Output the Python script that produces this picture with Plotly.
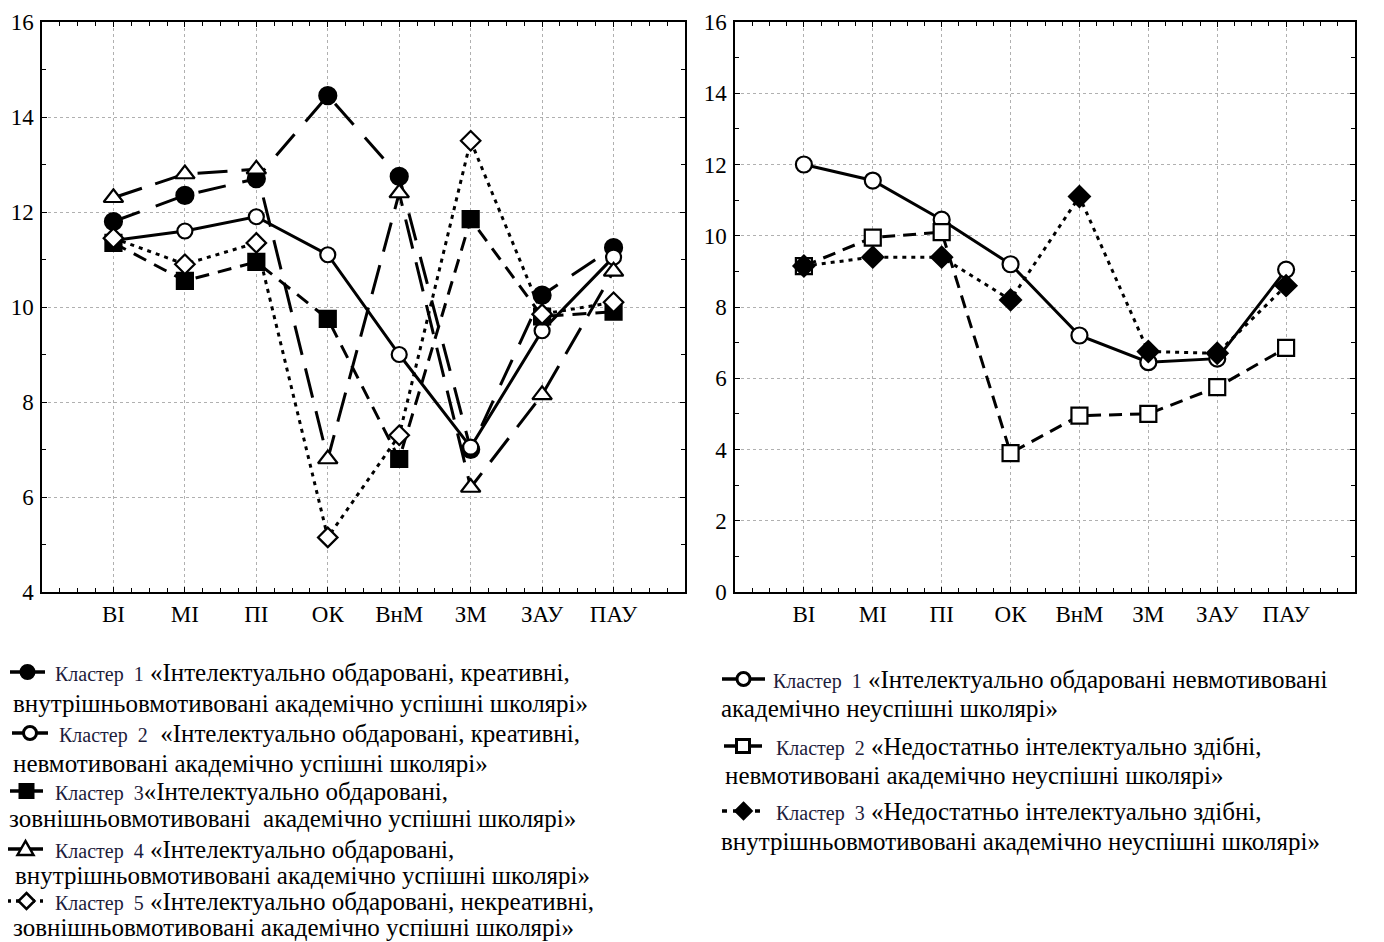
import plotly.graph_objects as go
from plotly.subplots import make_subplots

categories = ["ВІ", "МІ", "ПІ", "ОК", "ВнМ", "ЗМ", "ЗАУ", "ПАУ"]

# Left panel
left_c1 = [11.8, 12.35, 12.7, 14.45, 12.75, 7.0, 10.25, 11.25]
left_c2 = [11.4, 11.6, 11.9, 11.1, 9.0, 7.05, 9.5, 11.05]
left_c3 = [11.35, 10.55, 10.95, 9.75, 6.8, 11.85, 9.8, 9.9]
left_c4 = [12.3, 12.8, 12.9, 6.8, 12.4, 6.2, 8.15, 10.75]
left_c5 = [11.45, 10.9, 11.35, 5.15, 7.3, 13.5, 9.85, 10.1]

# Right panel
right_c1 = [12.0, 11.55, 10.45, 9.2, 7.2, 6.45, 6.55, 9.05]
right_c2 = [9.15, 9.95, 10.1, 3.9, 4.95, 5.0, 5.75, 6.85]
right_c3 = [9.15, 9.4, 9.4, 8.2, 11.1, 6.75, 6.7, 8.6]

left_legend = [
    ("Кластер  1", " «Інтелектуально обдаровані, креативні,", "внутрішньовмотивовані академічно успішні школярі»"),
    ("Кластер  2", "  «Інтелектуально обдаровані, креативні,", "невмотивовані академічно успішні школярі»"),
    ("Кластер  3", "«Інтелектуально обдаровані,", "зовнішньовмотивовані  академічно успішні школярі»"),
    ("Кластер  4", " «Інтелектуально обдаровані,", "внутрішньовмотивовані академічно успішні школярі»"),
    ("Кластер  5", " «Інтелектуально обдаровані, некреативні,", "зовнішньовмотивовані академічно успішні школярі»"),
]
right_legend = [
    ("Кластер  1", " «Інтелектуально обдаровані невмотивовані", "академічно неуспішні школярі»"),
    ("Кластер  2", " «Недостатньо інтелектуально здібні,", "невмотивовані академічно неуспішні школярі»"),
    ("Кластер  3", " «Недостатньо інтелектуально здібні,", "внутрішньовмотивовані академічно неуспішні школярі»"),
]

# the page body has an 8px margin; the figure is sized/offset to fit the window
OFF = 8
W, H = 1384 - OFF, 942 - OFF
FONT = "Liberation Serif, Times New Roman, DejaVu Serif, serif"

def px(x):
    return (x - OFF) / W

def py(y):
    return 1 - (y - OFF) / H

fig = make_subplots(rows=1, cols=2)
xidx = list(range(len(categories)))

# styles: (symbol, fill, dash, size)
left_styles = [
    ("circle", "black", "28px,17px", 17),
    ("circle", "white", "solid", 15),
    ("square", "black", "14px,9px", 16),
    ("triangle-up", "white", "30px,14px", 17),
    ("diamond", "white", "4px,5px", 15),
]
right_styles = [
    ("circle", "white", "solid", 16),
    ("square", "white", "13px,8px", 16),
    ("diamond", "black", "4px,5px", 16),
]

for data, (sym, fill, dash, sz) in zip([left_c1, left_c2, left_c3, left_c4, left_c5], left_styles):
    fig.add_trace(go.Scatter(
        x=xidx, y=data, mode="lines+markers",
        line=dict(color="black", width=3, dash=dash),
        marker=dict(symbol=sym, size=sz, color=fill,
                    line=dict(color="black", width=2.2)),
        showlegend=False), row=1, col=1)

for data, (sym, fill, dash, sz) in zip([right_c1, right_c2, right_c3], right_styles):
    fig.add_trace(go.Scatter(
        x=xidx, y=data, mode="lines+markers",
        line=dict(color="black", width=3, dash=dash),
        marker=dict(symbol=sym, size=sz, color=fill,
                    line=dict(color="black", width=2.2)),
        showlegend=False), row=1, col=2)

common_x = dict(
    range=[-1, 8], tickmode="array", tickvals=xidx, ticktext=categories,
    showline=True, linecolor="black", linewidth=1.5, mirror="ticks",
    ticks="inside", ticklen=5, tickcolor="black", tickwidth=1,
    showgrid=True, gridcolor="#b0b0b0", griddash="dot", gridwidth=1,
    zeroline=False, ticklabelstandoff=1, automargin=False,
    tickfont=dict(family=FONT, size=23, color="black"),
    minor=dict(tick0=0, dtick=0.25, ticks="inside", ticklen=4, tickcolor="black", showgrid=False),
)
common_y = dict(
    showline=True, linecolor="black", linewidth=1.5, mirror="ticks",
    ticks="inside", ticklen=5, tickcolor="black", tickwidth=1,
    showgrid=True, gridcolor="#b0b0b0", griddash="dot", gridwidth=1,
    zeroline=False, ticklabelstandoff=2, automargin=False,
    tickfont=dict(family=FONT, size=23, color="black"),
    minor=dict(dtick=1, ticks="inside", ticklen=4, tickcolor="black", showgrid=False),
)

fig.update_xaxes(**common_x)
fig.update_yaxes(**common_y)
fig.update_layout(
    xaxis=dict(domain=[px(42), px(685)]),
    xaxis2=dict(domain=[px(735), px(1355)]),
    yaxis=dict(domain=[py(592), py(22)], range=[4, 16], tickvals=[4, 6, 8, 10, 12, 14, 16]),
    yaxis2=dict(domain=[py(592), py(22)], range=[0, 16], tickvals=[0, 2, 4, 6, 8, 10, 12, 14, 16]),
)

shapes = []
annotations = []

def add_icon(x1, x2, y, sym, fill, dash):
    cx = (x1 + x2) / 2
    shapes.append(dict(type="line", xref="paper", yref="paper",
                       x0=px(x1), x1=px(x2), y0=py(y), y1=py(y),
                       line=dict(color="black", width=3.5, dash=dash)))
    r = 6.5
    if sym == "circle":
        shapes.append(dict(type="circle", xref="paper", yref="paper",
                           x0=px(cx - r), x1=px(cx + r), y0=py(y + r), y1=py(y - r),
                           fillcolor=fill, line=dict(color="black", width=3)))
    elif sym == "square":
        shapes.append(dict(type="rect", xref="paper", yref="paper",
                           x0=px(cx - r), x1=px(cx + r), y0=py(y + r), y1=py(y - r),
                           fillcolor=fill, line=dict(color="black", width=3)))
    elif sym == "triangle-up":
        path = "M {:.5f} {:.5f} L {:.5f} {:.5f} L {:.5f} {:.5f} Z".format(
            px(cx), py(y - 8), px(cx - 8), py(y + 6), px(cx + 8), py(y + 6))
        shapes.append(dict(type="path", xref="paper", yref="paper", path=path,
                           fillcolor=fill, line=dict(color="black", width=2.5)))
    elif sym == "diamond":
        path = "M {:.5f} {:.5f} L {:.5f} {:.5f} L {:.5f} {:.5f} L {:.5f} {:.5f} Z".format(
            px(cx), py(y - 8), px(cx + 8), py(y), px(cx), py(y + 8), px(cx - 8), py(y))
        shapes.append(dict(type="path", xref="paper", yref="paper", path=path,
                           fillcolor=fill, line=dict(color="black", width=2.5)))

def add_text(x, y, html):
    annotations.append(dict(x=px(x), y=py(y), xref="paper", yref="paper",
                            xanchor="left", yanchor="middle", showarrow=False,
                            text=html, font=dict(family=FONT, size=25, color="black")))

def first_line(label, rest):
    lab = label.replace(" ", "\u00a0")
    rst = rest.replace(" ", "\u00a0")
    return '<span style="font-size:20px;color:#1c1c3c">' + lab + '</span>' + rst

left_pos = [
    (10, 45, 672, 53, 703, 11),
    (12, 48, 733, 57, 763, 11),
    (10, 43, 791, 53, 818, 7),
    (8, 43, 849, 53, 875, 13),
    (8, 45, 901, 53, 927, 11),
]
left_icon_dash = ["solid", "solid", "solid", "solid", "3px,5px"]
for (lab, rest, line2), (x1, x2, y1, tx, y2, tx2), (sym, fill, _, _s), idash in zip(
        left_legend, left_pos, left_styles, left_icon_dash):
    add_icon(x1, x2, y1, sym, fill, idash)
    add_text(tx, y1, first_line(lab, rest))
    add_text(tx2, y2, line2.replace(" ", "\u00a0"))

right_pos = [
    (722, 765, 679, 771, 708, 719),
    (724, 762, 746, 774, 775, 723),
    (722, 765, 811, 774, 841, 719),
]
right_icon_dash = ["solid", "solid", "5px,6px"]
for (lab, rest, line2), (x1, x2, y1, tx, y2, tx2), (sym, fill, _, _s), idash in zip(
        right_legend, right_pos, right_styles, right_icon_dash):
    add_icon(x1, x2, y1, sym, fill, idash)
    add_text(tx, y1, first_line(lab, rest))
    add_text(tx2, y2, line2.replace(" ", "\u00a0"))

fig.update_layout(
    width=W, height=H, margin=dict(l=0, r=0, t=0, b=0),
    paper_bgcolor="white", plot_bgcolor="white",
    shapes=shapes, annotations=annotations,
    font=dict(family=FONT, color="black"),
)

fig.write_html("out.html")
